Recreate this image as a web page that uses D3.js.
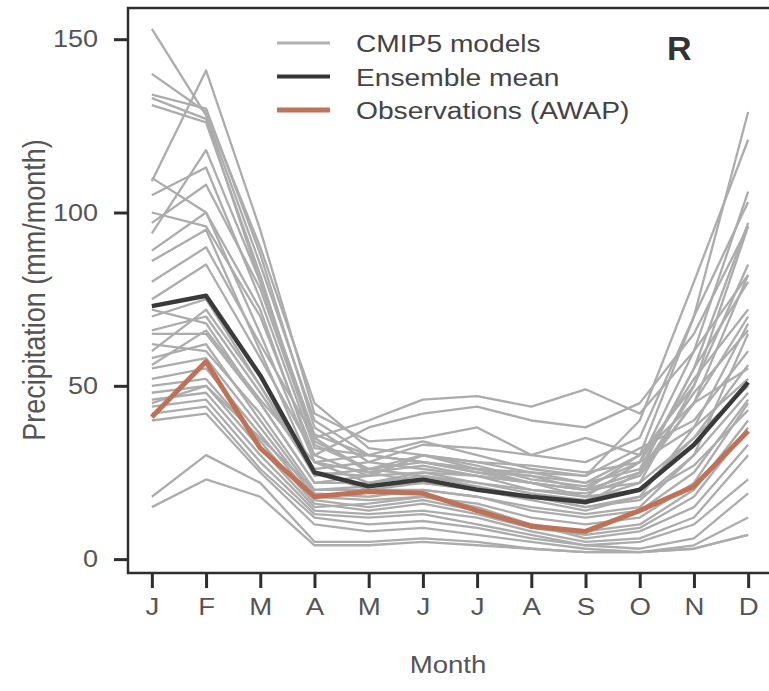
<!DOCTYPE html>
<html>
<head>
<meta charset="utf-8">
<script src="https://cdn.jsdelivr.net/npm/d3@7"></script>
<style>
  body { margin: 0; background: #fff; }
  svg { display: block; font-family: "Liberation Sans", Arial, sans-serif; }
</style>
</head>
<body>
<div id="chart"></div>
<script>
const months = ["J", "F", "M", "A", "M", "J", "J", "A", "S", "O", "N", "D"];
const monthIdx = d3.range(1, 13);
const yTicks = [0, 50, 100, 150];

// CMIP5 model climatologies (mm/month)
const models = [
  [153, 128, 85, 40, 30, 28, 25, 22, 20, 30, 70, 129],
  [140, 129, 90, 45, 32, 30, 28, 25, 24, 40, 80, 121],
  [134, 130, 88, 38, 28, 26, 24, 20, 18, 28, 60, 106],
  [133, 127, 80, 35, 25, 22, 20, 18, 16, 25, 55, 97],
  [131, 126, 82, 33, 26, 24, 22, 19, 17, 22, 50, 96],
  [109, 141, 95, 42, 34, 35, 38, 30, 28, 35, 70, 103],
  [105, 113, 75, 32, 30, 28, 26, 25, 22, 30, 50, 85],
  [100, 96, 70, 30, 24, 25, 22, 20, 19, 24, 45, 82],
  [97, 108, 78, 34, 26, 30, 27, 23, 21, 28, 52, 72],
  [89, 100, 72, 28, 22, 24, 21, 18, 15, 18, 38, 68],
  [86, 95, 60, 25, 20, 20, 18, 15, 13, 15, 30, 65],
  [80, 90, 62, 35, 40, 46, 47, 44, 49, 42, 60, 82],
  [75, 85, 58, 30, 38, 42, 44, 40, 38, 45, 65, 96],
  [70, 75, 50, 26, 28, 33, 32, 30, 35, 30, 45, 55],
  [66, 70, 48, 25, 24, 30, 28, 27, 25, 28, 38, 52],
  [65, 65, 45, 22, 22, 25, 24, 22, 20, 22, 35, 50],
  [62, 60, 42, 20, 20, 22, 20, 18, 15, 17, 30, 48],
  [58, 62, 40, 19, 18, 20, 18, 14, 12, 14, 25, 46],
  [55, 58, 38, 18, 17, 18, 16, 12, 10, 12, 22, 45],
  [52, 55, 36, 17, 15, 17, 14, 10, 8, 10, 20, 40],
  [50, 52, 34, 16, 14, 16, 13, 9, 7, 9, 18, 38],
  [48, 50, 32, 15, 16, 18, 15, 10, 6, 8, 15, 33],
  [46, 48, 30, 14, 13, 14, 12, 8, 5, 6, 12, 30],
  [44, 46, 28, 13, 12, 13, 10, 7, 4, 5, 10, 23],
  [42, 44, 26, 12, 10, 11, 9, 6, 4, 3, 6, 19],
  [40, 42, 25, 10, 8, 9, 7, 5, 3, 2, 3, 7],
  [18, 30, 22, 5, 5, 6, 5, 3, 2, 2, 3, 7],
  [15, 23, 18, 4, 4, 5, 4, 3, 2, 2, 4, 12],
  [110, 100, 65, 28, 25, 27, 24, 22, 20, 25, 48, 66],
  [94, 118, 80, 36, 30, 28, 26, 24, 22, 26, 55, 80],
  [72, 68, 45, 22, 24, 30, 26, 22, 18, 20, 35, 56],
  [60, 72, 50, 24, 26, 28, 25, 24, 20, 25, 45, 70],
  [56, 66, 46, 28, 30, 34, 30, 26, 24, 32, 40, 60],
  [45, 50, 35, 20, 21, 22, 20, 17, 14, 18, 27, 43],
];
const ensembleMean = [73, 76, 53, 25, 21, 23, 20, 18, 16.5, 20, 33, 51];
const observations = [41, 57, 32, 18, 19.5, 19, 14, 9.5, 8, 14, 21, 37];

const legendItems = [
  { label: "CMIP5 models", color: "#b0b0b0", width: 3 },
  { label: "Ensemble mean", color: "#353535", width: 4 },
  { label: "Observations (AWAP)", color: "#bf7359", width: 5 },
];

const W = 769, H = 691;
const SX = 1.15; // original figure is a little wide

const svg = d3.select("#chart").append("svg")
  .attr("width", W).attr("height", H);

const x = d3.scaleLinear().domain([0.56, 12.44]).range([128, 772]);
const y = d3.scaleLinear().domain([-4, 159]).range([573, 8]);

const line = d3.line()
  .x((d, i) => x(monthIdx[i]))
  .y((d) => y(d));

// model lines
svg.append("g")
  .selectAll("path")
  .data(models)
  .join("path")
  .attr("d", line)
  .attr("fill", "none")
  .attr("stroke", "#acacac")
  .attr("stroke-width", 2.3)
  .attr("stroke-linejoin", "round");

svg.append("path")
  .datum(ensembleMean)
  .attr("d", line)
  .attr("fill", "none")
  .attr("stroke", "#3a3a3a")
  .attr("stroke-width", 4.5)
  .attr("stroke-linejoin", "round");

svg.append("path")
  .datum(observations)
  .attr("d", line)
  .attr("fill", "none")
  .attr("stroke", "#c07258")
  .attr("stroke-width", 5)
  .attr("stroke-linejoin", "round");

// frame
svg.append("path")
  .attr("d", `M${x.range()[1]},8 H128 V573 H${x.range()[1]}`)
  .attr("fill", "none")
  .attr("stroke", "#2e2e2e")
  .attr("stroke-width", 2.5);

// y axis
svg.append("g")
  .attr("transform", "translate(128,0)")
  .call(d3.axisLeft(y).tickValues(yTicks).tickSize(14).tickPadding(16))
  .call((g) => g.select(".domain").remove())
  .call((g) => g.selectAll("line").attr("stroke", "#2e2e2e").attr("stroke-width", 3))
  .call((g) => g.selectAll("text")
    .attr("x", null)
    .attr("transform", `translate(-30,0) scale(${SX},1)`)
    .attr("fill", "#555")
    .attr("font-size", 23.5)
    .attr("font-family", "Liberation Sans, Arial, sans-serif"));

// x axis
svg.append("g")
  .attr("transform", "translate(0,573)")
  .call(d3.axisBottom(x).tickValues(monthIdx).tickSize(15).tickPadding(10)
    .tickFormat((d) => months[d - 1]))
  .call((g) => g.select(".domain").remove())
  .call((g) => g.selectAll("line").attr("stroke", "#2e2e2e").attr("stroke-width", 3))
  .call((g) => g.selectAll("text")
    .attr("y", null)
    .attr("transform", `translate(0,25) scale(${SX},1)`)
    .attr("fill", "#555")
    .attr("font-size", 24)
    .attr("font-family", "Liberation Sans, Arial, sans-serif"));

// axis titles
svg.append("text")
  .attr("transform", `translate(448,673) scale(${SX},1)`)
  .attr("text-anchor", "middle")
  .attr("fill", "#555")
  .attr("font-size", 24)
  .text("Month");

svg.append("text")
  .attr("transform", `translate(45,290) rotate(-90) scale(1,${SX})`)
  .attr("text-anchor", "middle")
  .attr("fill", "#555")
  .attr("font-size", 27)
  .text("Precipitation (mm/month)");

// legend
const legend = svg.append("g");
legendItems.forEach((d, i) => {
  const ly = 43 + i * 33.5;
  legend.append("line")
    .attr("x1", 277).attr("x2", 330)
    .attr("y1", ly).attr("y2", ly)
    .attr("stroke", d.color)
    .attr("stroke-width", d.width);
  legend.append("text")
    .attr("transform", `translate(356,${ly + 9}) scale(${SX},1)`)
    .attr("fill", "#444")
    .attr("font-size", 24.5)
    .text(d.label);
});

svg.append("text")
  .attr("x", 667).attr("y", 60)
  .attr("fill", "#333")
  .attr("font-size", 34)
  .attr("font-weight", "bold")
  .text("R");
</script>
</body>
</html>
